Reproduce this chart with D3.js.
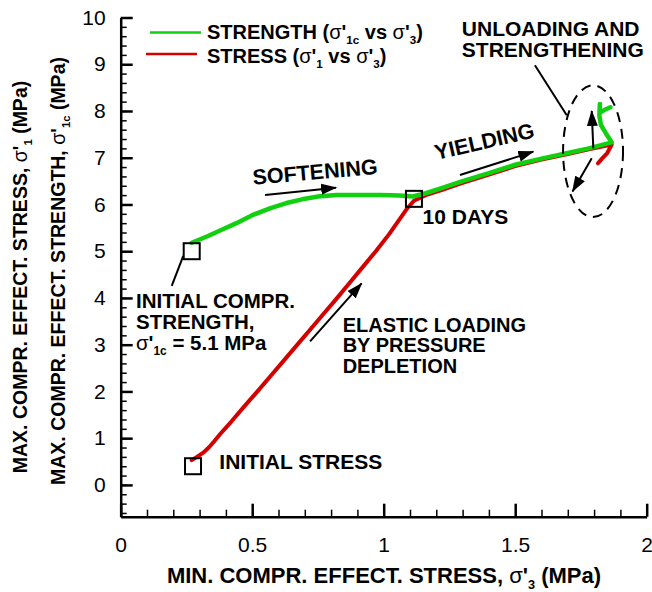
<!DOCTYPE html>
<html>
<head>
<meta charset="utf-8">
<title>Strength and stress path</title>
<script src="https://cdn.jsdelivr.net/npm/d3@7"></script>
<style>
body { margin: 0; background: #fff; }
text { font-family: "Liberation Sans", Arial, sans-serif; fill: #000; }
.b { font-weight: bold; }
.tick text { font-size: 21px; font-family: "Liberation Sans", Arial, sans-serif; }
</style>
</head>
<body>
<svg id="chart" width="652" height="592"></svg>
<script>
// strength path (sigma'1c vs sigma'3)
var strengthX = [0.27, 0.33, 0.38, 0.44, 0.50, 0.57, 0.63, 0.69, 0.75, 0.82, 0.90, 0.99, 1.06, 1.11,
                 1.16, 1.22, 1.30, 1.40, 1.50, 1.60, 1.70, 1.78, 1.867, 1.845, 1.826, 1.82, 1.822, 1.821, 1.838, 1.862];
var strengthY = [5.18, 5.32, 5.45, 5.60, 5.77, 5.92, 6.03, 6.11, 6.17, 6.20, 6.20, 6.20, 6.19, 6.17,
                 6.24, 6.35, 6.50, 6.67, 6.85, 6.98, 7.10, 7.20, 7.33, 7.52, 7.70, 7.90, 8.15, 7.96, 8.02, 8.08];

// stress path (sigma'1 vs sigma'3)
var stressX = [0.27, 0.29, 0.314, 0.335, 0.355, 0.38, 0.42, 0.47, 0.52, 0.57, 0.62, 0.67, 0.72, 0.77, 0.82,
               0.87, 0.92, 0.97, 1.02, 1.06, 1.09, 1.115, 1.16, 1.22, 1.30, 1.40, 1.50, 1.60, 1.70, 1.78, 1.867,
               1.85, 1.83, 1.815];
var stressY = [0.53, 0.60, 0.69, 0.80, 0.93, 1.10, 1.35, 1.68, 2.00, 2.33, 2.66, 2.99, 3.32, 3.65, 3.98,
               4.32, 4.66, 5.00, 5.36, 5.68, 5.92, 6.08, 6.20, 6.31, 6.46, 6.64, 6.82, 6.96, 7.08, 7.18, 7.28,
               7.10, 6.98, 6.88];

// square markers
var boxX = [0.27, 1.115, 0.275];
var boxY = [5.00, 6.12, 0.40];

var xTicks = [0, 0.5, 1, 1.5, 2];
var yTicks = [0, 1, 2, 3, 4, 5, 6, 7, 8, 9, 10];

// arrows [x1, y1, x2, y2] in data units
var arrows = [
  [0.549, 6.20, 0.819, 6.36],
  [1.290, 6.63, 1.569, 7.13],
  [0.720, 3.07, 0.916, 4.31],
  [1.797, 7.20, 1.791, 8.00],
  [1.791, 6.99, 1.718, 6.28]
];
// plain leader lines
var leaders = [
  [1.575, 8.98, 1.696, 7.91],
  [0.194, 4.26, 0.238, 4.90]
];

var svg = d3.select("#chart");

var x = d3.scaleLinear().domain([0, 2]).range([120.7, 646.7]);
var y = d3.scaleLinear().domain([-0.68, 10]).range([516.7, 17.5]);

var defs = svg.append("defs");
defs.append("marker")
    .attr("id", "head")
    .attr("viewBox", "0 -6 16 12")
    .attr("refX", 15).attr("refY", 0)
    .attr("markerWidth", 16).attr("markerHeight", 12)
    .attr("markerUnits", "userSpaceOnUse")
    .attr("orient", "auto")
  .append("path")
    .attr("d", "M0,-5.5L16,0L0,5.5Z")
    .attr("fill", "#000");

// minor ticks
svg.append("g")
    .attr("transform", "translate(0," + y.range()[0] + ")")
    .call(d3.axisBottom(x).tickValues(d3.range(1, 20).map(function(i) { return i / 10; }))
      .tickSize(-7).tickFormat(""))
    .call(function(g) { g.select(".domain").remove(); g.selectAll("line").attr("stroke-width", 1.5); });
svg.append("g")
    .attr("transform", "translate(" + x.range()[0] + ",0)")
    .call(d3.axisLeft(y).tickValues(d3.range(-3, 50).map(function(i) { return i / 5; }))
      .tickSize(-6).tickFormat(""))
    .call(function(g) { g.select(".domain").remove(); g.selectAll("line").attr("stroke-width", 1.5); });

// major axes
svg.append("g")
    .attr("transform", "translate(0," + y.range()[0] + ")")
    .call(d3.axisBottom(x).tickValues(xTicks).tickSize(-13).tickSizeOuter(0).tickPadding(20)
      .tickFormat(function(d) { return String(d); }))
    .call(function(g) {
      g.select(".domain").attr("stroke-width", 2.5);
      g.selectAll("line").attr("stroke-width", 2.5);
    });
svg.append("g")
    .attr("transform", "translate(" + x.range()[0] + ",0)")
    .call(d3.axisLeft(y).tickValues(yTicks).tickSize(-12).tickSizeOuter(0).tickPadding(15)
      .tickFormat(function(d) { return String(d); }))
    .call(function(g) {
      g.select(".domain").attr("stroke-width", 2.5);
      g.selectAll("line").attr("stroke-width", 2.5);
    });

var line = d3.line().x(function(d) { return x(d[0]); }).y(function(d) { return y(d[1]); });

svg.append("path")
    .datum(d3.zip(stressX, stressY))
    .attr("d", line)
    .attr("fill", "none").attr("stroke", "#d40000").attr("stroke-width", 4)
    .attr("stroke-linejoin", "round").attr("stroke-linecap", "round");
svg.append("path")
    .datum(d3.zip(strengthX, strengthY))
    .attr("d", line)
    .attr("fill", "none").attr("stroke", "#10d010").attr("stroke-width", 4.5)
    .attr("stroke-linejoin", "round").attr("stroke-linecap", "round");

svg.selectAll(".box")
    .data(d3.zip(boxX, boxY))
    .enter().append("rect")
    .attr("class", "box")
    .attr("x", function(d) { return x(d[0]) - 8; })
    .attr("y", function(d) { return y(d[1]) - 8; })
    .attr("width", 16).attr("height", 16)
    .attr("fill", "none").attr("stroke", "#000").attr("stroke-width", 2);

svg.selectAll(".arrow")
    .data(arrows)
    .enter().append("line")
    .attr("x1", function(d) { return x(d[0]); }).attr("y1", function(d) { return y(d[1]); })
    .attr("x2", function(d) { return x(d[2]); }).attr("y2", function(d) { return y(d[3]); })
    .attr("stroke", "#000").attr("stroke-width", 2)
    .attr("marker-end", "url(#head)");

svg.selectAll(".leader")
    .data(leaders)
    .enter().append("line")
    .attr("x1", function(d) { return x(d[0]); }).attr("y1", function(d) { return y(d[1]); })
    .attr("x2", function(d) { return x(d[2]); }).attr("y2", function(d) { return y(d[3]); })
    .attr("stroke", "#000").attr("stroke-width", 2);

// dashed ellipse round the unloading part
svg.append("ellipse")
    .attr("cx", x(1.796)).attr("cy", y(7.14))
    .attr("rx", x(1.796 + 0.114) - x(1.796))
    .attr("ry", y(7.14) - y(7.14 + 1.41))
    .attr("fill", "none").attr("stroke", "#000").attr("stroke-width", 2)
    .attr("stroke-dasharray", "10,7");

// rich text: parts are [text, kind], kind "b" bold, "s" sigma, "sub" subscript, "up" back to baseline
function rich(g, parts, size) {
  var t = g.append("text").attr("font-size", size);
  parts.forEach(function(p) {
    var s = t.append("tspan").text(p[0]);
    if (p[1] === "b") s.attr("font-weight", "bold");
    if (p[1] === "s") s.attr("font-weight", "normal");
    if (p[1] === "sub") s.attr("font-weight", "bold").attr("font-size", size * 0.58).attr("dy", size * 0.25);
    if (p[1] === "up") s.attr("font-weight", "bold").attr("dy", -size * 0.25);
  });
  return t;
}

// legend
svg.append("line").attr("x1", 150).attr("x2", 201).attr("y1", 32.5).attr("y2", 32.5)
    .attr("stroke", "#10d010").attr("stroke-width", 2.5);
svg.append("line").attr("x1", 146).attr("x2", 197).attr("y1", 54).attr("y2", 54)
    .attr("stroke", "#d40000").attr("stroke-width", 2.5);
rich(svg, [["STRENGTH (", "b"], ["σ", "s"], ["'", "b"], ["1c", "sub"], [" vs ", "up"], ["σ", "s"], ["'", "b"], ["3", "sub"], [")", "up"]], 20)
    .attr("x", 207).attr("y", 39);
rich(svg, [["STRESS (", "b"], ["σ", "s"], ["'", "b"], ["1", "sub"], [" vs ", "up"], ["σ", "s"], ["'", "b"], ["3", "sub"], [")", "up"]], 20)
    .attr("x", 207).attr("y", 63);

// axis titles
rich(svg, [["MIN. COMPR. EFFECT. STRESS, ", "b"], ["σ", "s"], ["'", "b"], ["3", "sub"], [" (MPa)", "up"]], 22)
    .attr("x", 384).attr("y", 583).attr("text-anchor", "middle");
rich(svg, [["MAX. COMPR. EFFECT. STRESS, ", "b"], ["σ", "s"], ["'", "b"], ["1", "sub"], [" (MPa)", "up"]], 19.5)
    .attr("text-anchor", "middle")
    .attr("transform", "translate(27,277) rotate(-90)");
rich(svg, [["MAX. COMPR. EFFECT. STRENGTH, ", "b"], ["σ", "s"], ["'", "b"], ["1c", "sub"], [" (MPa)", "up"]], 19.5)
    .attr("text-anchor", "middle")
    .attr("transform", "translate(65,271) rotate(-90)");

// annotations: [x, y, lines, angle, font size, line step]
var notes = [
  [0.504, 6.42, ["SOFTENING"], -5, 21.5, 0],
  [1.201, 6.95, ["YIELDING"], -13, 21.5, 0],
  [1.148, 5.58, ["10 DAYS"], 0, 21, 0],
  [0.844, 3.28, ["ELASTIC LOADING", "BY PRESSURE", "DEPLETION"], 0, 20, 20.5],
  [0.375, 0.336, ["INITIAL STRESS"], 0, 21, 0],
  [1.297, 9.60, ["UNLOADING AND", "STRENGTHENING"], 0, 21, 21],
  [0.058, 3.78, ["INITIAL COMPR.", "STRENGTH,"], 0, 20.5, 21]
];
notes.forEach(function(n) {
  var t = svg.append("text").attr("class", "b").attr("font-size", n[4])
      .attr("transform", "translate(" + x(n[0]) + "," + y(n[1]) + ") rotate(" + n[3] + ")");
  n[2].forEach(function(s, i) {
    t.append("tspan").attr("x", 0).attr("dy", i ? n[5] : 0).text(s);
  });
});
rich(svg, [["σ", "s"], ["'", "b"], ["1c", "sub"], [" = 5.1 MPa", "up"]], 20.5)
    .attr("x", x(0.058)).attr("y", y(3.78) + 42);
</script>
</body>
</html>
